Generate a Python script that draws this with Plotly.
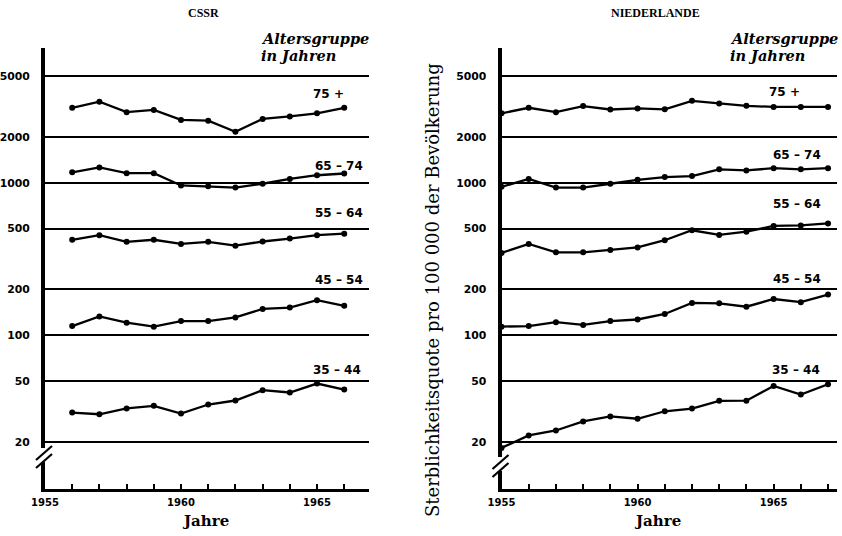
import plotly.graph_objects as go

W, H = 842, 536

# ---------------- data ----------------
years_cs = list(range(1956, 1967))
cs_75 = [3100, 3400, 2900, 3000, 2580, 2550, 2160, 2620, 2720, 2850, 3100]
cs_65 = [1170, 1260, 1155, 1155, 960, 950, 930, 985, 1060, 1120, 1150]
cs_55 = [423, 453, 410, 423, 397, 410, 387, 412, 431, 453, 464]
cs_45 = [115, 133, 121, 114, 124, 124, 131, 149, 152, 170, 156]
cs_35 = [31.2, 30.4, 33.2, 34.5, 30.7, 35.2, 37.4, 43.7, 42.2, 48.3, 44.1]

years_nl = list(range(1955, 1968))
nl_75 = [2850, 3100, 2900, 3180, 3020, 3070, 3030, 3440, 3310, 3190, 3140, 3140, 3140]
nl_65 = [940, 1060, 930, 930, 985, 1045, 1090, 1105, 1225, 1205, 1245, 1225, 1245]
nl_55 = [347, 397, 350, 350, 363, 377, 420, 488, 455, 478, 521, 525, 541]
nl_45 = [114, 115, 122, 117, 124, 127, 138, 163, 162, 154, 173, 165, 185]
nl_35 = [18.3, 22.1, 23.8, 27.3, 29.4, 28.4, 31.8, 33.1, 37.2, 37.3, 46.6, 40.9, 47.8]

group_labels = ["75 +", "65 \u2013 74", "55 \u2013 64", "45 \u2013 54", "35 \u2013 44"]
y_ticks = [20, 50, 100, 200, 500, 1000, 2000, 5000]
y_ticktext = ["20", "50", "100", "200", "500", "1000", "2000", "5000"]
x_labeled = [1955, 1960, 1965]

panel_titles = ["CSSR", "NIEDERLANDE"]
y_title = "Sterblichkeitsquote pro 100 000 der Bev\u00f6lkerung"
x_title = "Jahre"
legend_title = ["Altersgruppe", "in Jahren"]


def px(x, y):
    return x / W, 1 - y / H


fig = go.Figure()

line_style = dict(color="black", width=2.3)
marker_style = dict(color="black", size=6, symbol="circle")

for series in [cs_75, cs_65, cs_55, cs_45, cs_35]:
    fig.add_trace(go.Scatter(x=years_cs, y=series, mode="lines+markers",
                             line=line_style, marker=marker_style,
                             xaxis="x", yaxis="y", cliponaxis=False,
                             showlegend=False, hoverinfo="skip"))
for series in [nl_75, nl_65, nl_55, nl_45, nl_35]:
    fig.add_trace(go.Scatter(x=years_nl, y=series, mode="lines+markers",
                             line=line_style, marker=marker_style,
                             xaxis="x2", yaxis="y2", cliponaxis=False,
                             showlegend=False, hoverinfo="skip"))

y_dom = [1 - 489 / H, 1 - 48 / H]
y_range = [0.993, 3.883]
ytick_font = dict(family="DejaVu Sans", size=10.8, color="black", weight="bold")
xtick_font = dict(family="DejaVu Sans", size=10, color="black", weight="bold")


def xaxis_cfg(dom, rng, years, anchor):
    return dict(domain=dom, range=rng, anchor=anchor, automargin=False,
                tickvals=years,
                ticktext=[str(v) if v in x_labeled else "" for v in years],
                ticks="inside", ticklen=5, tickwidth=2, tickcolor="black",
                showline=True, linewidth=3, linecolor="black",
                showgrid=False, zeroline=False, tickfont=xtick_font,
                ticklabelstandoff=2, fixedrange=True)


def yaxis_cfg(anchor):
    return dict(domain=y_dom, type="log", range=y_range, anchor=anchor,
                automargin=False,
                tickvals=y_ticks, ticktext=y_ticktext, ticks="",
                showline=True, linewidth=4, linecolor="black",
                showgrid=True, gridcolor="black", gridwidth=1.6,
                zeroline=False, tickfont=ytick_font, ticklabelstandoff=9,
                fixedrange=True)


fig.update_layout(
    width=W, height=H, margin=dict(l=0, r=0, t=0, b=0, autoexpand=False),
    paper_bgcolor="white", plot_bgcolor="white", showlegend=False,
    xaxis=xaxis_cfg([45 / W, 368.7 / W], [1955, 1966.9], list(range(1955, 1967)), "y"),
    yaxis=yaxis_cfg("x"),
    xaxis2=xaxis_cfg([501.5 / W, 837 / W], [1955, 1967.33], list(range(1955, 1968)), "y2"),
    yaxis2=yaxis_cfg("x2"),
)

ann = []


def text(x, y, s, size, family, weight="normal", style="normal",
         xanchor="center", angle=0):
    ax, ay = px(x, y)
    ann.append(dict(x=ax, y=ay, xref="paper", yref="paper", text=s,
                    showarrow=False, xanchor=xanchor, yanchor="middle",
                    textangle=angle,
                    font=dict(family=family, size=size, color="black",
                              weight=weight, style=style)))


# panel titles
text(203, 13, panel_titles[0], 12, "Liberation Serif", weight="bold")
text(655, 13, panel_titles[1], 12, "Liberation Serif", weight="bold")

# "Altersgruppe in Jahren"
for lx in (259, 728):
    text(lx, 38, legend_title[0], 14.5, "DejaVu Serif", weight="bold", style="italic", xanchor="left")
    text(lx, 56, legend_title[1], 14.5, "DejaVu Serif", weight="bold", style="italic", xanchor="left")

# group labels
left_pos = [(328, 94), (339, 166), (339, 213), (339, 280), (337, 370)]
right_pos = [(784, 92), (797, 155), (797, 204), (797, 279), (796, 370)]
for lbl, (x, y) in zip(group_labels, left_pos):
    text(x, y, lbl, 12, "DejaVu Sans", weight="bold")
for lbl, (x, y) in zip(group_labels, right_pos):
    text(x, y, lbl, 12, "DejaVu Sans", weight="bold")

# axis titles
text(205, 521, x_title, 15, "DejaVu Serif", weight="bold")
text(657, 521, x_title, 15, "DejaVu Serif", weight="bold")
text(432, 290, y_title, 18, "DejaVu Serif", angle=-90)

fig.update_layout(annotations=ann)

# axis break marks
shapes = []


def seg(x0, y0, x1, y1, color="black", width=2):
    a0, b0 = px(x0, y0)
    a1, b1 = px(x1, y1)
    shapes.append(dict(type="line", xref="paper", yref="paper",
                       x0=a0, y0=b0, x1=a1, y1=b1, layer="above",
                       line=dict(color=color, width=width)))


for axx, dy in ((45, 0), (501.5, 9)):
    seg(axx, 448 + dy, axx, 462 + dy, color="white", width=8)
    seg(axx - 9, 460 + dy, axx + 7, 446 + dy, width=2.2)
    seg(axx - 9, 468 + dy, axx + 7, 454 + dy, width=2.2)

fig.update_layout(shapes=shapes)

fig.write_html("out.html")
